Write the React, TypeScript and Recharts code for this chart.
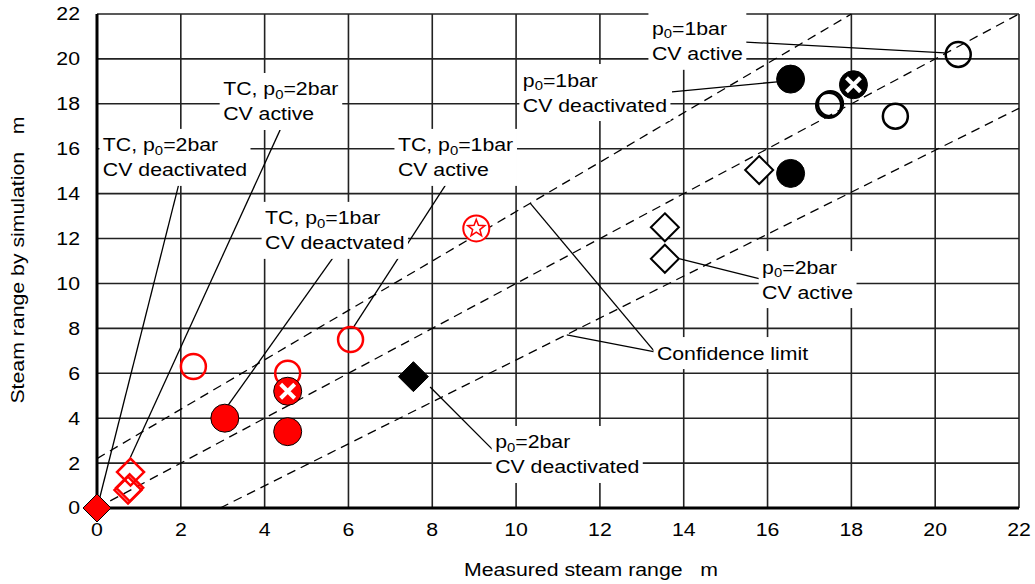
import { useLayoutEffect, useRef, useState } from 'react';
import {
  ScatterChart,
  Scatter,
  XAxis,
  YAxis,
  CartesianGrid,
  ReferenceLine,
  ReferenceDot,
  Label,
} from 'recharts';

// --- data ---
const ticks = [0, 2, 4, 6, 8, 10, 12, 14, 16, 18, 20, 22];

// TC = red series
const tcDeactDiamond = [{ x: 0, y: 0 }];
const tcActiveDiamond = [
  { x: 0.8, y: 1.6 },
  { x: 0.78, y: 0.9 },
  { x: 0.74, y: 0.8 },
];
const tcDeactCircle = [
  { x: 3.05, y: 4.0 },
  { x: 4.55, y: 3.4 },
];
const tcCross = [{ x: 4.55, y: 5.2 }];
const tcActiveCircle = [
  { x: 2.3, y: 6.3 },
  { x: 4.55, y: 6.0 },
  { x: 6.05, y: 7.5 },
];
const tcStar = [{ x: 9.05, y: 12.45 }];

// black series
const deactDiamond = [{ x: 7.55, y: 5.85 }];
const activeDiamond = [
  { x: 13.55, y: 12.5 },
  { x: 13.55, y: 11.1 },
  { x: 15.8, y: 15.05 },
];
const deactCircle = [
  { x: 16.55, y: 19.1 },
  { x: 16.55, y: 14.9 },
];
const blackCross = [{ x: 18.05, y: 18.85 }];
const activeCircle = [
  { x: 17.5, y: 18.0 },
  { x: 17.46, y: 17.94 },
  { x: 19.05, y: 17.45 },
  { x: 20.55, y: 20.2 },
];

// dashed lines: identity and confidence limits
const confUpper = [{ x: 0, y: 2.2 }, { x: 18, y: 22 }];
const identity = [{ x: 0, y: 0 }, { x: 22, y: 22 }];
const confLower = [{ x: 2.94, y: 0 }, { x: 22, y: 17.8 }];

// annotation labels ({0} = subscript)
const notes = [
  { x: 13.24, y: 21.34, lines: ['p{0}=1bar', 'CV active'] },
  { x: 10.16, y: 19.06, lines: ['p{0}=1bar', 'CV deactivated'] },
  { x: 3.01, y: 18.66, lines: ['TC, p{0}=2bar', 'CV active'] },
  { x: 0.14, y: 16.17, lines: ['TC, p{0}=2bar', 'CV deactivated'] },
  { x: 4.01, y: 12.92, lines: ['TC, p{0}=1bar', 'CV deactvated'] },
  { x: 7.18, y: 16.17, lines: ['TC, p{0}=1bar', 'CV active'] },
  { x: 15.87, y: 10.73, lines: ['p{0}=2bar', 'CV active'] },
  { x: 13.36, y: 6.9, lines: ['Confidence limit'] },
  { x: 9.5, y: 2.94, lines: ['p{0}=2bar', 'CV deactivated'] },
];

const leaders = [
  [{ x: 15.37, y: 20.76 }, { x: 20.23, y: 20.27 }],
  [{ x: 13.72, y: 18.53 }, { x: 16.23, y: 18.98 }],
  [{ x: 4.37, y: 16.84 }, { x: 0.79, y: 2.23 }],
  [{ x: 1.96, y: 14.48 }, { x: 0.07, y: 0.49 }],
  [{ x: 5.68, y: 11.27 }, { x: 3.1, y: 4.5 }],
  [{ x: 8.35, y: 14.48 }, { x: 6.11, y: 8.02 }],
  [{ x: 15.82, y: 10.2 }, { x: 13.91, y: 11.09 }],
  [{ x: 13.31, y: 6.95 }, { x: 10.33, y: 13.59 }],
  [{ x: 13.31, y: 6.95 }, { x: 11.21, y: 7.71 }],
  [{ x: 9.5, y: 2.49 }, { x: 7.95, y: 5.39 }],
];

const RED = '#ff0000';
const FONT = '"Liberation Sans", Arial, sans-serif';
const FS = 18.5;
const SX = 1.15; // source text is a bit wide

function richLine(s: string) {
  const parts = s.split(/\{(.*?)\}/);
  return parts.map((p, i) =>
    i % 2 === 1 ? (
      <tspan key={i} fontSize={FS * 0.7} dy={5}>
        {p}
      </tspan>
    ) : (
      <tspan key={i} dy={i > 0 ? -5 : 0}>
        {p}
      </tspan>
    ),
  );
}

function Note({ cx, cy, lines }: { cx: number; cy: number; lines: string[] }) {
  const ref = useRef<SVGGElement>(null);
  const [box, setBox] = useState<{ x: number; w: number } | null>(null);
  useLayoutEffect(() => {
    if (ref.current) {
      const b = ref.current.getBBox();
      setBox({ x: b.x, w: b.width });
    }
  }, [lines]);
  return (
    <g transform={`translate(${cx},${cy}) scale(${SX},1)`}>
      {box && (
        <rect
          x={box.x - 3}
          y={-16}
          width={box.w + 6}
          height={(lines.length - 1) * 25 + 32}
          fill="#fff"
        />
      )}
      <g ref={ref}>
        {lines.map((l, i) => (
          <text
            key={i}
            x={0}
            y={i * 25}
            dominantBaseline="central"
            fontSize={FS}
            fontFamily={FONT}
            fill="#000"
          >
            {richLine(l)}
          </text>
        ))}
      </g>
    </g>
  );
}

const diamond =
  (fill: string, stroke: string, sw: number, h: number) => (p: any) => (
    <path
      d={`M${p.cx},${p.cy - h}L${p.cx + h},${p.cy}L${p.cx},${p.cy + h}L${p.cx - h},${p.cy}Z`}
      fill={fill}
      stroke={stroke}
      strokeWidth={sw}
    />
  );

const circle = (fill: string, stroke: string, sw: number, r: number) => (p: any) => (
  <circle cx={p.cx} cy={p.cy} r={r} fill={fill} stroke={stroke} strokeWidth={sw} />
);

const crossCircle = (fill: string) => (p: any) => (
  <g>
    <circle cx={p.cx} cy={p.cy} r={14} fill={fill} stroke="#000" strokeWidth={1} />
    <path
      d={`M${p.cx - 7},${p.cy - 7}L${p.cx + 7},${p.cy + 7}M${p.cx + 7},${p.cy - 7}L${p.cx - 7},${p.cy + 7}`}
      stroke="#fff"
      strokeWidth={4}
    />
  </g>
);

const starCircle = (p: any) => {
  const pts: string[] = [];
  for (let i = 0; i < 10; i++) {
    const r = i % 2 === 0 ? 9 : 3.8;
    const a = -Math.PI / 2 + (i * Math.PI) / 5;
    pts.push(`${p.cx + r * Math.cos(a)},${p.cy + r * Math.sin(a)}`);
  }
  return (
    <g>
      <circle cx={p.cx} cy={p.cy} r={13} fill="#fff" stroke={RED} strokeWidth={2} />
      <polygon points={pts.join(' ')} fill="none" stroke={RED} strokeWidth={1.5} />
    </g>
  );
};

const XTick = ({ x, y, payload }: any) => (
  <g transform={`translate(${x},${y + 22})`}>
    <text
      transform={`scale(${SX},1)`}
      textAnchor="middle"
      dominantBaseline="central"
      fontSize={FS}
      fontFamily={FONT}
      fill="#000"
    >
      {payload.value}
    </text>
  </g>
);

const YTick = ({ x, y, payload }: any) => (
  <g transform={`translate(${x - 17},${y})`}>
    <text
      transform={`scale(${SX},1)`}
      textAnchor="end"
      dominantBaseline="central"
      fontSize={FS}
      fontFamily={FONT}
      fill="#000"
    >
      {payload.value}
    </text>
  </g>
);

export default function App() {
  return (
    <div style={{ position: 'absolute', left: 0, top: 0, width: 1035, height: 584, background: '#fff' }}>
      <ScatterChart
        width={1035}
        height={584}
        margin={{ top: 14, right: 16, bottom: 0, left: 0 }}
      >
        <CartesianGrid stroke="#222" strokeWidth={1.6} />
        <XAxis
          type="number"
          dataKey="x"
          domain={[0, 22]}
          ticks={ticks}
          height={76}
          tickSize={0}
          tickMargin={0}
          tick={<XTick />}
          axisLine={{ stroke: '#000', strokeWidth: 3 }}
          tickLine={false}
        >
          <Label
            content={(props: any) => {
              const vb = props.viewBox;
              return (
                <g transform={`translate(${vb.x + vb.width / 2 + 33},${570})`}>
                  <text
                    transform={`scale(${SX},1)`}
                    textAnchor="middle"
                    dominantBaseline="central"
                    fontSize={FS}
                    fontFamily={FONT}
                    style={{ whiteSpace: 'pre' }}
                  >
                    {'Measured steam range   m'}
                  </text>
                </g>
              );
            }}
          />
        </XAxis>
        <YAxis
          type="number"
          dataKey="y"
          domain={[0, 22]}
          ticks={ticks}
          width={97}
          tickSize={0}
          tickMargin={0}
          tick={<YTick />}
          axisLine={{ stroke: '#000', strokeWidth: 3 }}
          tickLine={false}
        >
          <Label
            content={(props: any) => {
              const vb = props.viewBox;
              return (
                <g transform={`translate(18,${vb.y + vb.height / 2 - 1}) rotate(-90)`}>
                  <text
                    transform={`scale(${SX},1)`}
                    textAnchor="middle"
                    dominantBaseline="central"
                    fontSize={FS}
                    fontFamily={FONT}
                    style={{ whiteSpace: 'pre' }}
                  >
                    {'Steam range by simulation   m'}
                  </text>
                </g>
              );
            }}
          />
        </YAxis>

        {[confUpper, identity, confLower].map((seg, i) => (
          <ReferenceLine
            key={`c${i}`}
            segment={seg}
            stroke="#000"
            strokeWidth={1.3}
            strokeDasharray="9 6"
            ifOverflow="visible"
          />
        ))}
        {leaders.map((seg, i) => (
          <ReferenceLine key={`l${i}`} segment={seg} stroke="#000" strokeWidth={1.3} ifOverflow="visible" />
        ))}
        {notes.map((n, i) => (
          <ReferenceDot
            key={`n${i}`}
            x={n.x}
            y={n.y}
            ifOverflow="visible"
            shape={(p: any) => <Note cx={p.cx} cy={p.cy} lines={n.lines} />}
          />
        ))}

        <Scatter data={tcActiveCircle} isAnimationActive={false} shape={circle('none', RED, 2.5, 12.5)} />
        <Scatter data={tcActiveDiamond} isAnimationActive={false} shape={diamond('none', RED, 2.5, 13.5)} />
        <Scatter data={tcDeactDiamond} isAnimationActive={false} shape={diamond(RED, '#000', 1, 14)} />
        <Scatter data={tcDeactCircle} isAnimationActive={false} shape={circle(RED, '#000', 1, 14)} />
        <Scatter data={tcCross} isAnimationActive={false} shape={crossCircle(RED)} />
        <Scatter data={tcStar} isAnimationActive={false} shape={starCircle} />
        <Scatter data={deactDiamond} isAnimationActive={false} shape={diamond('#000', '#000', 1, 15)} />
        <Scatter data={activeDiamond} isAnimationActive={false} shape={diamond('#fff', '#000', 2, 14)} />
        <Scatter data={deactCircle} isAnimationActive={false} shape={circle('#000', '#000', 1, 14)} />
        <Scatter data={blackCross} isAnimationActive={false} shape={crossCircle('#000')} />
        <Scatter data={activeCircle} isAnimationActive={false} shape={circle('none', '#000', 2.5, 12.5)} />
      </ScatterChart>
    </div>
  );
}
